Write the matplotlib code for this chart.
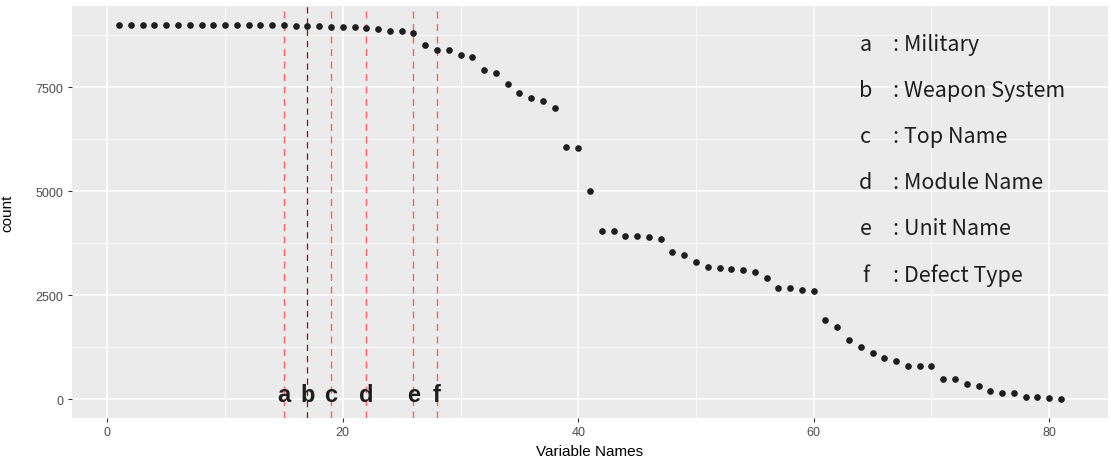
import matplotlib
matplotlib.use("Agg")
import matplotlib.pyplot as plt
import numpy as np

plt.rcParams["font.family"] = ["Liberation Sans", "DejaVu Sans"]

# ---- data ----
var_index = list(range(1, 82))
counts = [
    9000, 9000, 9000, 9000, 9000, 9000, 9000, 9000, 9000, 9000,
    9000, 9000, 9000, 9000, 9000, 8976, 8976, 8976, 8952, 8952,
    8952, 8920, 8890, 8856, 8856, 8808, 8519, 8391, 8391, 8279,
    8223, 7910, 7845, 7580, 7363, 7243, 7156, 7002, 6063, 6039,
    4996, 4033, 4033, 3930, 3930, 3896, 3848, 3528, 3471, 3287,
    3174, 3150, 3126, 3102, 3054, 2909, 2668, 2668, 2620, 2596,
    1898, 1729, 1416, 1247, 1120, 982, 910, 790, 790, 790,
    477, 477, 364, 308, 188, 149, 149, 43, 43, 19,
    0,
]
marker_letters = ["a", "b", "c", "d", "e", "f"]
marker_positions = [15, 17, 19, 22, 26, 28]
legend_names = ["Military", "Weapon System", "Top Name", "Module Name", "Unit Name", "Defect Type"]
legend_y = [8400, 7290, 6180, 5070, 3960, 2850]
x_ticks = [0, 20, 40, 60, 80]
y_ticks = [0, 2500, 5000, 7500]

# ---- figure ----
W, H = 1111, 464
fig = plt.figure(figsize=(W / 100, H / 100), dpi=100)
left, right, top, bottom = 72, 1108, 7, 419
ax = fig.add_axes([left / W, 1 - bottom / H, (right - left) / W, (bottom - top) / H])
ax.set_facecolor("#EBEBEB")
for s in ax.spines.values():
    s.set_visible(False)

ax.set_xlim(-3, 85)
ax.set_ylim(-450, 9450)
ax.set_xticks(x_ticks)
ax.set_yticks(y_ticks)
ax.set_xticks([10, 30, 50, 70], minor=True)
ax.set_yticks([1250, 3750, 6250, 8750], minor=True)
ax.grid(True, which="major", color="white", linewidth=1.1)
ax.grid(True, which="minor", color="white", linewidth=0.55)
ax.set_axisbelow(True)
ax.tick_params(which="major", length=3, width=0.8, color="#333333",
               labelcolor="#4D4D4D", labelsize=9, pad=3)
ax.tick_params(which="minor", length=0)

# vertical markers
for letter, xp in zip(marker_letters, marker_positions):
    if letter == "b":
        ax.axvline(xp, color="#B00000", linewidth=0.9, linestyle=(0, (5, 4)), zorder=2)
    else:
        ax.axvline(xp, color="#FF3333", alpha=0.75, linewidth=1.0, linestyle=(0, (5, 4)), zorder=2)

ax.plot(var_index, counts, "o", color="#1E1E1E", markersize=4.8, markeredgewidth=0, zorder=3)

for letter, xp in zip(marker_letters, marker_positions):
    ax.text(xp, -30, letter, ha="center", va="baseline", fontsize=17,
            fontweight="bold", color="#1E1E1E", zorder=4)

for letter, name, yy in zip(marker_letters, legend_names, legend_y):
    ax.text(64.4, yy, letter, ha="center", va="baseline", fontsize=15.5,
            color="#1E1E1E", family=["Noto Sans CJK KR", "DejaVu Sans"])
    ax.text(66.7, yy, ": " + name, ha="left", va="baseline", fontsize=15.5,
            color="#1E1E1E", family=["Noto Sans CJK KR", "DejaVu Sans"])

ax.set_xlabel("Variable Names", fontsize=11, color="black", labelpad=4)
ax.set_ylabel("count", fontsize=11, color="black")
ax.yaxis.set_label_coords(-58 / (right - left), 0.5)

fig.savefig("out.png", dpi=100)
